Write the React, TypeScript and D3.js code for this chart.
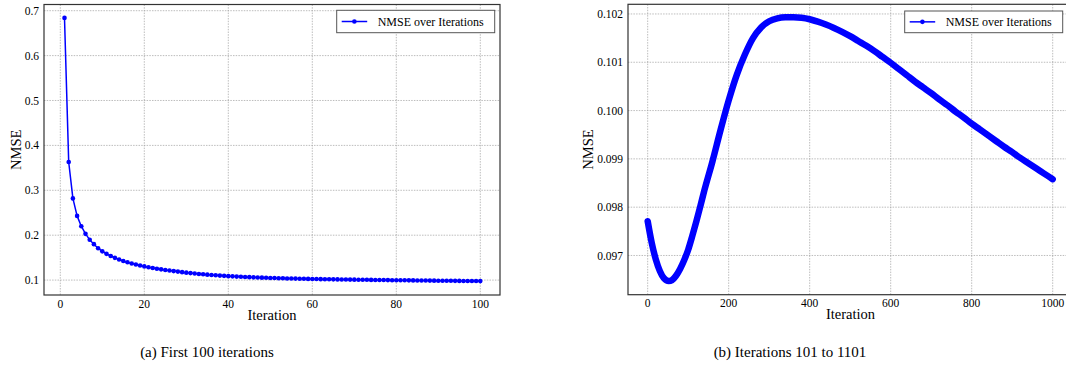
import React from "react";
import * as d3 from "d3";

// ---------- Data ----------
const nmseA: number[] = [
  0.684, 0.363, 0.282, 0.243, 0.220, 0.203, 0.190, 0.180, 0.171, 0.164,
  0.1585, 0.1537, 0.1495, 0.1458, 0.1425, 0.1396, 0.1370, 0.1346, 0.1325, 0.1305,
  0.1287, 0.1270, 0.1254, 0.1239, 0.1225, 0.1212, 0.1200, 0.1189, 0.1177, 0.1166,
  0.1156, 0.1146, 0.1137, 0.1129, 0.1121, 0.1114, 0.1107, 0.1100, 0.1094, 0.1088,
  0.1083, 0.1078, 0.1073, 0.1069, 0.1065, 0.1061, 0.1057, 0.1054, 0.1051, 0.1048,
  0.1045, 0.1042, 0.1040, 0.1037, 0.1035, 0.1033, 0.1031, 0.1029, 0.1027, 0.1025,
  0.1023, 0.1021, 0.1020, 0.1018, 0.1017, 0.1015, 0.1014, 0.1012, 0.1011, 0.1010,
  0.1008, 0.1007, 0.1006, 0.1004, 0.1003, 0.1002, 0.1001, 0.1000, 0.0998, 0.0997,
  0.0996, 0.0995, 0.0994, 0.0993, 0.0992, 0.0991, 0.0990, 0.0989, 0.0988, 0.0987,
  0.0986, 0.0985, 0.0984, 0.0983, 0.0982, 0.0981, 0.0980, 0.0980, 0.0979, 0.0978,
];
const iterA: number[] = nmseA.map((_, i) => i + 1);

const iterB: number[] = [
  0, 10, 20, 30, 40, 52, 60, 70, 80, 90, 100, 110, 120, 130, 140, 160, 180, 200,
  220, 240, 260, 280, 300, 320, 340, 360, 380, 400, 420, 440, 460, 480, 500, 520,
  540, 560, 580, 600, 620, 640, 660, 680, 700, 720, 740, 760, 780, 800, 820, 840,
  860, 880, 900, 920, 940, 960, 980, 1000,
];
const nmseB: number[] = [
  0.09771, 0.09726, 0.09692, 0.09668, 0.09653, 0.09647, 0.09649, 0.09658, 0.09672, 0.0969,
  0.09712, 0.0974, 0.0977, 0.09802, 0.09835, 0.09895, 0.0996, 0.10021,
  0.10074, 0.10116, 0.1015, 0.10172, 0.10185, 0.10191, 0.10193, 0.10193, 0.10192, 0.10189,
  0.10184, 0.10178, 0.10171, 0.10163, 0.10154, 0.10144,
  0.10134, 0.10123, 0.10111, 0.10099, 0.10086, 0.10073, 0.1006, 0.10048, 0.10036, 0.10023,
  0.10011, 0.09998, 0.09986, 0.09973, 0.09961, 0.09949,
  0.09937, 0.09925, 0.09914, 0.09902, 0.09891, 0.0988, 0.09869, 0.09858,
];

const ticksXA = [0, 20, 40, 60, 80, 100];
const ticksYA = [0.1, 0.2, 0.3, 0.4, 0.5, 0.6, 0.7];
const ticksXB = [0, 200, 400, 600, 800, 1000];
const ticksYB = [0.097, 0.098, 0.099, 0.1, 0.101, 0.102];

const legendLabel = "NMSE over Iterations";
const captionA = "(a) First 100 iterations";
const captionB = "(b) Iterations 101 to 1101";

const FONT = "'Liberation Serif', 'Times New Roman', serif";
const BLUE = "#0000ff";

type PanelProps = {
  xs: number[];
  ys: number[];
  xDomain: [number, number];
  yDomain: [number, number];
  box: { left: number; right: number; top: number; bottom: number };
  ticksX: number[];
  ticksY: number[];
  fmtY: (v: number) => string;
  thick: boolean;
  labelX: number;
  labelCenterX: number;
  legendRight: number;
  legendTop: number;
  legendBottom: number;
};

function Panel(p: PanelProps) {
  const x = d3.scaleLinear().domain(p.xDomain).range([p.box.left, p.box.right]);
  const y = d3.scaleLinear().domain(p.yDomain).range([p.box.bottom, p.box.top]);
  const pts = p.xs.map((v, i) => [v, p.ys[i]] as [number, number]);
  const line = d3
    .line<[number, number]>()
    .x((d) => x(d[0]))
    .y((d) => y(d[1]))
    .curve(p.thick ? d3.curveMonotoneX : d3.curveLinear);
  const clipId = p.thick ? "clipB" : "clipA";
  const w = p.box.right - p.box.left;
  const h = p.box.bottom - p.box.top;
  const legW = 158;
  const legL = p.legendRight - legW;
  const legMid = (p.legendTop + p.legendBottom) / 2;
  return (
    <g>
      <defs>
        <clipPath id={clipId}>
          <rect x={p.box.left} y={p.box.top} width={w} height={h} />
        </clipPath>
      </defs>
      {/* grid */}
      {p.ticksX.map((t) => (
        <line key={"gx" + t} x1={x(t)} x2={x(t)} y1={p.box.top} y2={p.box.bottom}
          stroke="#a0a0a0" strokeWidth={0.7} strokeDasharray="1.5,1.2" />
      ))}
      {p.ticksY.map((t) => (
        <line key={"gy" + t} x1={p.box.left} x2={p.box.right} y1={y(t)} y2={y(t)}
          stroke="#a0a0a0" strokeWidth={0.7} strokeDasharray="1.5,1.2" />
      ))}
      {/* data */}
      <g clipPath={`url(#${clipId})`}>
        <path d={line(pts) || ""} fill="none" stroke={BLUE}
          strokeWidth={p.thick ? 6.5 : 1.5} strokeLinecap="round" strokeLinejoin="round" />
        {!p.thick &&
          pts.map((d, i) => (
            <circle key={i} cx={x(d[0])} cy={y(d[1])} r={2.3} fill={BLUE} />
          ))}
      </g>
      {/* spines */}
      <rect x={p.box.left} y={p.box.top} width={w} height={h} fill="none" stroke="#333" strokeWidth={1.2} />
      {/* tick labels */}
      {p.ticksX.map((t) => (
        <text key={"tx" + t} x={x(t)} y={p.box.bottom + 12.5} textAnchor="middle"
          fontFamily={FONT} fontSize={11.5} fill="#000">{t}</text>
      ))}
      {p.ticksY.map((t) => (
        <text key={"ty" + t} x={p.box.left - 5} y={y(t)} dy="0.35em" textAnchor="end"
          fontFamily={FONT} fontSize={11.5} fill="#000">{p.fmtY(t)}</text>
      ))}
      {/* axis labels */}
      <text x={p.labelCenterX} y={p.box.bottom + 24.5}
        textAnchor="middle" fontFamily={FONT} fontSize={14.5} fill="#000">Iteration</text>
      <text transform={`translate(${p.labelX},${(p.box.top + p.box.bottom) / 2}) rotate(-90)`}
        textAnchor="middle" fontFamily={FONT} fontSize={14.5} fill="#000">NMSE</text>
      {/* legend */}
      <rect x={legL} y={p.legendTop} width={legW} height={p.legendBottom - p.legendTop}
        fill="#fff" stroke="#555" strokeWidth={1} />
      <line x1={legL + 5} x2={legL + 30.5} y1={legMid} y2={legMid} stroke={BLUE} strokeWidth={1.5} />
      <circle cx={legL + 17.7} cy={legMid} r={2.3} fill={BLUE} />
      <text x={legL + 41} y={legMid} dy="0.35em" fontFamily={FONT} fontSize={12} fill="#000">
        {legendLabel}
      </text>
    </g>
  );
}

export default function App() {
  return (
    <div style={{ position: "absolute", left: 0, top: 0 }}>
      <svg width={1066} height={368} style={{ display: "block", background: "#fff" }}>
        <Panel
          xs={iterA}
          ys={nmseA}
          xDomain={[-3.88, 104.69]}
          yDomain={[0.0668, 0.7138]}
          box={{ left: 44, right: 500, top: 4.5, bottom: 295 }}
          ticksX={ticksXA}
          ticksY={ticksYA}
          fmtY={(v) => d3.format(".1f")(v)}
          thick={false}
          labelX={21}
          labelCenterX={272}
          legendRight={494.7}
          legendTop={10.3}
          legendBottom={32.7}
        />
        <Panel
          xs={iterB}
          ys={nmseB}
          xDomain={[-48.6, 1037.8]}
          yDomain={[0.096188, 0.1022]}
          box={{ left: 628, right: 1068, top: 4.3, bottom: 294.7 }}
          ticksX={ticksXB}
          ticksY={ticksYB}
          fmtY={(v) => d3.format(".3f")(v)}
          thick={true}
          labelX={592.5}
          labelCenterX={850.5}
          legendRight={1062.7}
          legendTop={11}
          legendBottom={32.7}
        />
        <text x={207} y={357} textAnchor="middle" fontFamily={FONT} fontSize={15} fill="#000">
          {captionA}
        </text>
        <text x={790} y={357} textAnchor="middle" fontFamily={FONT} fontSize={15} fill="#000">
          {captionB}
        </text>
      </svg>
    </div>
  );
}
